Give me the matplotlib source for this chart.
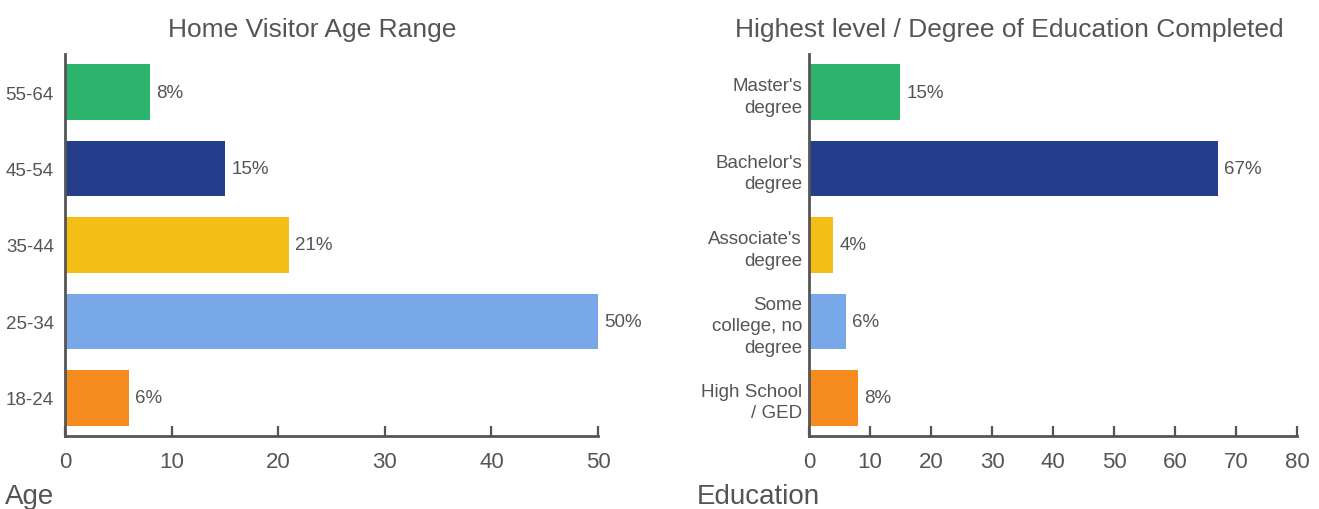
import matplotlib
matplotlib.use("Agg")
import matplotlib.pyplot as plt

plt.rcParams['font.family'] = ['Liberation Sans', 'DejaVu Sans']

# data (bottom to top)
age_groups = ["18-24", "25-34", "35-44", "45-54", "55-64"]
age_pct = [6, 50, 21, 15, 8]

edu_levels = ["High School\n/ GED", "Some\ncollege, no\ndegree", "Associate's\ndegree",
              "Bachelor's\ndegree", "Master's\ndegree"]
edu_pct = [8, 6, 4, 67, 15]

bar_colors = ["#f68b20", "#78a8e8", "#f5be17", "#253e8c", "#2db56d"]
text_col = "#555555"
axis_col = "#555555"

fig = plt.figure(figsize=(13.19, 5.10), dpi=100)
ax1 = fig.add_axes([65/1319, 73/510, 533/1319, 382/510])
ax2 = fig.add_axes([809/1319, 73/510, 488/1319, 382/510])


def style(ax, cats, vals, xmax, step, lab_pad):
    ypos = range(len(cats))
    ax.barh(ypos, vals, height=0.73, color=bar_colors)
    for y, v in zip(ypos, vals):
        ax.annotate(f"{v}%", (v, y), xytext=(4.5, 0), textcoords="offset points",
                    va="center", ha="left", fontsize=13.5, color=text_col)
    ax.set_xlim(0, xmax)
    ax.set_ylim(-0.5, len(cats) - 0.5)
    ax.set_xticks(range(0, xmax + 1, step))
    ax.set_yticks(list(ypos))
    ax.set_yticklabels(cats, fontsize=13.5, color=text_col, ha="right",
                       multialignment="right", linespacing=1.35)
    for s in ["top", "right"]:
        ax.spines[s].set_visible(False)
    for s in ["left", "bottom"]:
        ax.spines[s].set_color(axis_col)
        ax.spines[s].set_linewidth(2)
    ax.tick_params(axis="x", direction="in", length=7, width=1.6, color=axis_col,
                   labelsize=16, labelcolor=text_col, pad=11)
    ax.tick_params(axis="y", length=0, pad=lab_pad)


style(ax1, age_groups, age_pct, 50, 10, 8)
style(ax2, edu_levels, edu_pct, 80, 10, 5)

fig.text(312/1319, 1 - 30/510, "Home Visitor Age Range", ha="center", va="center",
         fontsize=19, color=text_col)
fig.text(1009/1319, 1 - 30/510, "Highest level / Degree of Education Completed",
         ha="center", va="center", fontsize=19, color=text_col)
fig.text(5/1319, 1 - 497/510, "Age", ha="left", va="center", fontsize=20, color=text_col)
fig.text(697/1319, 1 - 497/510, "Education", ha="left", va="center", fontsize=20,
         color=text_col)

fig.savefig("out.png", dpi=100)
